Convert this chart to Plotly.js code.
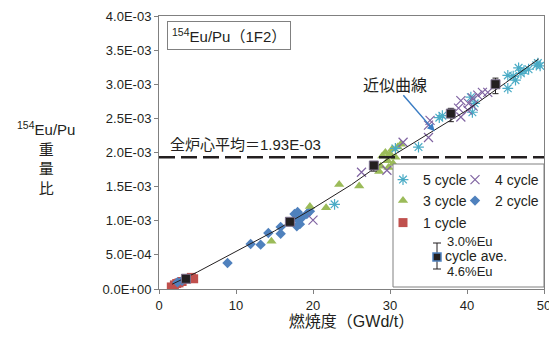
<!DOCTYPE html>
<html><head><meta charset="utf-8">
<script src="https://cdn.plot.ly/plotly-3.0.1.min.js"></script>
<style>body{margin:0;background:#fff}</style>
</head><body><div id="chart" style="width:549px;height:343px"></div>
<script>
// ---- data (burnup GWd/t, 154Eu/Pu weight ratio) ----
const cycle1X = [1.6, 2.0, 2.3, 2.6, 3.0, 3.6, 4.2, 4.5];
const cycle1Y = [0.3e-4, 0.6e-4, 0.8e-4, 0.9e-4, 1.1e-4, 1.5e-4, 1.7e-4, 1.5e-4];
const cycle2X = [2.4, 3.0, 8.9, 11.9, 13.2, 14.2, 15.8, 15.8, 17.6, 18.0, 18.3, 19.2, 17.9, 18.6, 19.6, 18.0];
const cycle2Y = [1.0e-4, 1.2e-4, 0.38e-3, 0.66e-3, 0.65e-3, 0.82e-3, 0.91e-3, 0.81e-3, 1.10e-3, 1.02e-3, 0.95e-3, 1.10e-3, 0.92e-3, 1.05e-3, 1.14e-3, 1.13e-3];
const cycle3X = [14.6, 19.6, 21.7, 23.4, 26.0, 28.6, 28.8, 29.0, 29.4, 29.7, 30.0, 30.3, 30.7, 31.0, 31.4, 29.8, 30.4];
const cycle3Y = [0.70e-3, 1.21e-3, 1.19e-3, 1.53e-3, 1.51e-3, 1.72e-3, 1.80e-3, 1.95e-3, 2.00e-3, 1.88e-3, 1.98e-3, 2.05e-3, 1.93e-3, 2.08e-3, 2.12e-3, 1.78e-3, 1.84e-3];
const cycle4X = [20.0, 26.3, 29.6, 31.7, 35.0, 35.0, 35.2, 38.9, 39.2, 39.2, 40.1, 40.2, 40.7, 41.4, 42.0, 42.7, 40.8];
const cycle4Y = [1.01e-3, 1.71e-3, 1.74e-3, 2.15e-3, 2.22e-3, 2.40e-3, 2.47e-3, 2.65e-3, 2.76e-3, 2.52e-3, 2.62e-3, 2.72e-3, 2.80e-3, 2.84e-3, 2.88e-3, 2.88e-3, 2.68e-3];
const cycle5X = [22.8, 30.7, 33.7, 36.4, 36.8, 40.5, 40.7, 41.0, 45.3, 45.3, 46.3, 46.7, 47.0, 47.4, 48.0, 49.0, 49.2, 49.5, 46.0];
const cycle5Y = [1.24e-3, 2.06e-3, 2.08e-3, 2.51e-3, 2.54e-3, 2.81e-3, 2.59e-3, 2.72e-3, 3.13e-3, 2.94e-3, 3.06e-3, 3.24e-3, 3.16e-3, 3.20e-3, 3.22e-3, 3.28e-3, 3.31e-3, 3.27e-3, 3.12e-3];
const aveX = [3.5, 17.0, 27.9, 37.9, 43.7];
const aveY = [0.15e-3, 0.985e-3, 1.81e-3, 2.57e-3, 3.00e-3];
const errPlusPct = 3.0, errMinusPct = 4.6;
const fitX = [1.7, 5, 10, 15, 20, 25, 30, 35, 40, 45, 49.3];
const fitY = [0.07e-3, 0.25e-3, 0.55e-3, 0.85e-3, 1.18e-3, 1.53e-3, 1.93e-3, 2.28e-3, 2.62e-3, 3.02e-3, 3.37e-3];
const coreAvg = 1.93e-3;
const seriesNames = ['5 cycle', '4 cycle', '3 cycle', '2 cycle', '1 cycle'];
const xTickVals = [0, 10, 20, 30, 40, 50];
const yTickVals = [0, 0.5e-3, 1.0e-3, 1.5e-3, 2.0e-3, 2.5e-3, 3.0e-3, 3.5e-3, 4.0e-3];
const yTickText = ['0.0E+00', '5.0E-04', '1.0E-03', '1.5E-03', '2.0E-03', '2.5E-03', '3.0E-03', '3.5E-03', '4.0E-03'];

// ---- geometry helpers (pixel -> paper) ----
const W = 549, H = 343, ML = 159, MR = 5, MT = 16, MB = 54;
const PW = W - ML - MR, PH = H - MT - MB;
const px = v => (v - ML) / PW;
const py = v => (H - MB - v) / PH;

const LAT = 'Liberation Sans, Arial, Noto Sans CJK JP, sans-serif';
const CJK = 'Liberation Sans, Noto Sans CJK JP, sans-serif';
const ink = '#231f20';

const traces = [
  {x: cycle1X, y: cycle1Y, name: seriesNames[4], mode: 'markers', legend: 'legend5',
   marker: {symbol: 'square', size: 9, color: '#c0504d'}},
  {x: cycle2X, y: cycle2Y, name: seriesNames[3], mode: 'markers', legend: 'legend4',
   marker: {symbol: 'diamond', size: 8, color: '#4f81bd'}},
  {x: cycle3X, y: cycle3Y, name: seriesNames[2], mode: 'markers', legend: 'legend3',
   marker: {symbol: 'triangle-up', size: 9, color: '#9bbb59'}},
  {x: cycle5X, y: cycle5Y, name: seriesNames[0], mode: 'markers', legend: 'legend',
   marker: {symbol: 'asterisk-open', size: 9, color: '#4bacc6', line: {width: 1.2, color: '#4bacc6'}}},
  {x: cycle4X, y: cycle4Y, name: seriesNames[1], mode: 'markers', legend: 'legend2',
   marker: {symbol: 'x-thin-open', size: 9, color: '#8064a2', line: {width: 1.2, color: '#8064a2'}}},
  {x: fitX, y: fitY, mode: 'lines', showlegend: false, line: {color: ink, width: 1}},
  {x: aveX, y: aveY, mode: 'markers', showlegend: false,
   marker: {symbol: 'square', size: 9, color: ink, line: {color: '#7b6f8c', width: 1}},
   error_y: {type: 'percent', symmetric: false, value: errPlusPct, valueminus: errMinusPct,
             color: ink, thickness: 1, width: 3}}
];

const legFont = {family: LAT, size: 14, color: ink};
const mkLeg = (x, y) => ({x: px(x), y: py(y), xanchor: 'left', yanchor: 'middle',
  bgcolor: 'rgba(0,0,0,0)', borderwidth: 0, font: legFont, itemclick: false});

const layout = {
  width: W, height: H,
  margin: {l: ML, r: MR, t: MT, b: MB, pad: 0},
  paper_bgcolor: '#fff', plot_bgcolor: '#fff',
  font: {family: LAT, color: ink},
  xaxis: {range: [0, 50], tickvals: xTickVals, ticks: 'outside', ticklen: 4, tickcolor: '#808080',
    showline: true, linecolor: '#808080', mirror: true, showgrid: false, zeroline: false,
    ticklabeloverflow: 'allow',
    tickfont: {family: LAT, size: 13, color: ink},
    title: {text: '燃焼度（GWd/t）', font: {family: CJK, size: 16, color: ink}, standoff: 4}},
  yaxis: {range: [0, 4.0e-3], tickvals: yTickVals, ticktext: yTickText, ticks: 'outside', ticklen: 4,
    tickcolor: '#808080', showline: true, linecolor: '#808080', mirror: true, showgrid: false, zeroline: false,
    tickfont: {family: LAT, size: 13, color: ink}},
  legend: mkLeg(383, 180),
  legend2: mkLeg(455, 180),
  legend3: mkLeg(383, 201),
  legend4: mkLeg(455, 201),
  legend5: mkLeg(383, 223),
  shapes: [
    {type: 'line', xref: 'paper', x0: 0, x1: 1, yref: 'y', y0: coreAvg, y1: coreAvg,
     line: {color: ink, width: 2.5, dash: '16px,6px'}},
    {type: 'rect', xref: 'paper', yref: 'paper', x0: px(393), x1: px(544), y0: py(164), y1: py(287),
     line: {color: '#808080', width: 1}, fillcolor: '#fff', layer: 'above'},
    // cycle ave. legend glyph (error bar)
    {type: 'line', xref: 'paper', yref: 'paper', x0: px(437), x1: px(437), y0: py(243), y1: py(269),
     line: {color: ink, width: 1}, layer: 'above'},
    {type: 'line', xref: 'paper', yref: 'paper', x0: px(433), x1: px(441), y0: py(243), y1: py(243),
     line: {color: ink, width: 1}, layer: 'above'},
    {type: 'line', xref: 'paper', yref: 'paper', x0: px(433), x1: px(441), y0: py(269), y1: py(269),
     line: {color: ink, width: 1}, layer: 'above'},
    {type: 'rect', xref: 'paper', yref: 'paper', x0: px(433), x1: px(441), y0: py(261), y1: py(253),
     line: {color: '#4f81bd', width: 1.5}, fillcolor: ink, layer: 'above'}
  ],
  annotations: [
    {xref: 'paper', yref: 'paper', x: px(228.5), y: py(36), xanchor: 'center', yanchor: 'middle',
     text: '<sup>154</sup>Eu/Pu（1F2）', showarrow: false, font: {family: CJK, size: 15, color: ink},
     bordercolor: '#808080', borderwidth: 1, borderpad: 4, bgcolor: '#fff'},
    {xref: 'paper', yref: 'paper', x: px(46), y: py(158), xanchor: 'center', yanchor: 'middle',
     text: '<sup>154</sup>Eu/Pu<br>重<br>量<br>比', showarrow: false, align: 'center',
     font: {family: CJK, size: 15, color: ink}},
    {xref: 'paper', yref: 'y', x: px(168), y: coreAvg, xanchor: 'left', yanchor: 'bottom', yshift: 2,
     text: '全炉心平均＝1.93E-03', showarrow: false, font: {family: CJK, size: 15, color: ink}},
    {xref: 'x', yref: 'y', x: 35.8, y: 2.31e-3, ax: -40, ay: -46, text: '近似曲線',
     showarrow: true, arrowhead: 2, arrowsize: 1, arrowwidth: 1.5, arrowcolor: '#3b7dc4', standoff: 0,
     font: {family: CJK, size: 16, color: ink}},
    {xref: 'paper', yref: 'paper', x: px(445), y: py(242), xanchor: 'left', yanchor: 'middle',
     text: errPlusPct.toFixed(1) + '%Eu', showarrow: false, font: {family: LAT, size: 13, color: ink}},
    {xref: 'paper', yref: 'paper', x: px(443), y: py(256), xanchor: 'left', yanchor: 'middle',
     text: 'cycle ave.', showarrow: false, font: {family: LAT, size: 14, color: ink}},
    {xref: 'paper', yref: 'paper', x: px(445), y: py(271), xanchor: 'left', yanchor: 'middle',
     text: errMinusPct.toFixed(1) + '%Eu', showarrow: false, font: {family: LAT, size: 13, color: ink}}
  ]
};

Plotly.newPlot('chart', traces, layout, {staticPlot: true, displayModeBar: false});
</script>
</body></html>
